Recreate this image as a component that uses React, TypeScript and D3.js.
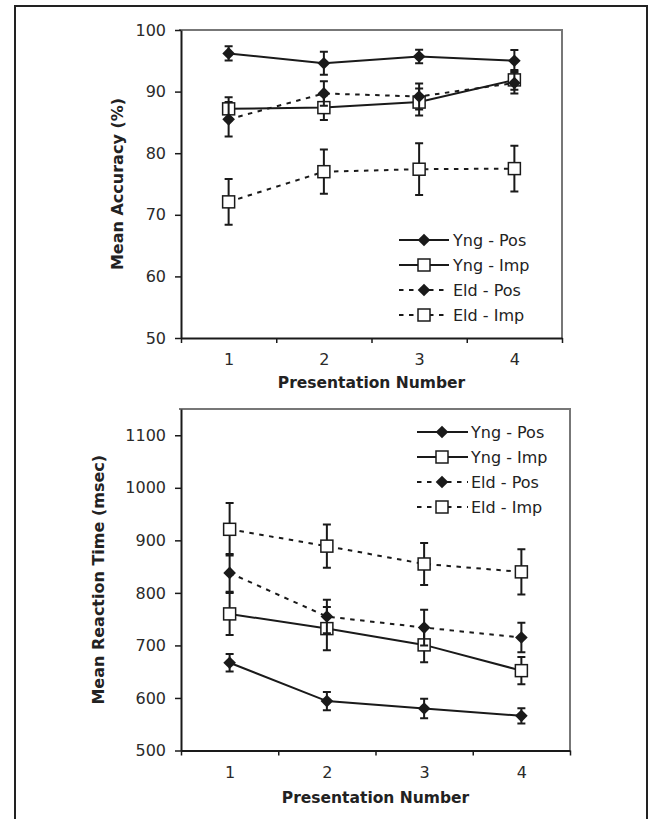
import React, { useEffect, useRef } from 'react';
import * as d3 from 'd3';

// presentation numbers on the x axis
const sessions = [1, 2, 3, 4];
const seriesNames = ['Yng - Pos', 'Yng - Imp', 'Eld - Pos', 'Eld - Imp'];

// top panel: mean accuracy (%)
const accYngPos = [96.2, 94.6, 95.7, 95.0];
const accYngPosErr = [1.15, 1.85, 1.1, 1.75];
const accYngImp = [87.2, 87.4, 88.3, 91.9];
const accYngImpErr = [1.9, 2.0, 2.2, 1.6];
const accEldPos = [85.5, 89.7, 89.2, 91.4];
const accEldPosErr = [2.8, 2.0, 2.1, 1.7];
const accEldImp = [72.1, 77.0, 77.4, 77.5];
const accEldImpErr = [3.7, 3.6, 4.2, 3.7];
const accTicks = [50, 60, 70, 80, 90, 100];

// bottom panel: mean reaction time (msec)
const rtYngPos = [667, 594, 580, 566];
const rtYngPosErr = [16.5, 17.5, 18.5, 14.5];
const rtYngImp = [760, 732, 701, 652];
const rtYngImpErr = [40, 41, 33, 26];
const rtEldPos = [838, 755, 734, 715];
const rtEldPosErr = [36, 32, 34, 28];
const rtEldImp = [921, 889, 855, 840];
const rtEldImpErr = [50, 41, 40, 43];
const rtTicks = [500, 600, 700, 800, 900, 1000, 1100];

const FONT = '"DejaVu Sans", Verdana, sans-serif';
const INK = '#1a1a1a';
const DASH = '4.5,5.5';

type Panel = {
  xRange: [number, number];
  yDomain: [number, number];
  yRange: [number, number];
  yTicks: number[];
  values: number[][];
  errs: number[][];
  yTitle: string;
  yTitleX: number;
  xTitleY: number;
  legend: { x0: number; x1: number; mx: number; tx: number; rows: number[] };
};

function drawMarker(g: any, kind: 'diamond' | 'square', cx: number, cy: number) {
  if (kind === 'diamond') {
    g.append('path')
      .attr('d', d3.symbol(d3.symbolSquare, 80)())
      .attr('transform', `translate(${cx},${cy}) rotate(45)`)
      .attr('fill', INK);
  } else {
    g.append('rect')
      .attr('x', cx - 6).attr('y', cy - 6)
      .attr('width', 12).attr('height', 12)
      .attr('fill', '#fff')
      .attr('stroke', INK)
      .attr('stroke-width', 1.5);
  }
}

function drawPanel(svg: any, p: Panel) {
  const x = d3.scaleLinear().domain([0.5, 4.5]).range(p.xRange);
  const y = d3.scaleLinear().domain(p.yDomain).range(p.yRange);
  const [left, right] = p.xRange;
  const [bottom, top] = p.yRange;

  const g = svg.append('g');

  // gray plot frame (top + right)
  g.append('path')
    .attr('d', `M${left - 2},${top}H${right}V${bottom}`)
    .attr('fill', 'none')
    .attr('stroke', '#777')
    .attr('stroke-width', 2);

  // y axis
  const ya = g.append('g')
    .attr('transform', `translate(${left},0)`)
    .call(d3.axisLeft(y).tickValues(p.yTicks).tickSize(6).tickSizeOuter(0).tickPadding(9).tickFormat(d3.format('d')));
  ya.select('.domain').attr('stroke', INK).attr('stroke-width', 2);
  ya.selectAll('line').attr('stroke', INK).attr('stroke-width', 1.5);
  ya.selectAll('text').attr('font-family', FONT).attr('font-size', 16).attr('fill', '#2a2a2a');

  // x axis with ticks between categories
  const xa = g.append('g')
    .attr('transform', `translate(0,${bottom})`)
    .call(d3.axisBottom(x).tickValues([0.5, 1.5, 2.5, 3.5, 4.5]).tickSize(5).tickSizeOuter(0).tickFormat(() => ''));
  xa.select('.domain').attr('stroke', INK).attr('stroke-width', 2);
  xa.selectAll('line').attr('stroke', INK).attr('stroke-width', 1.5);

  const xl = g.append('g')
    .attr('transform', `translate(0,${bottom})`)
    .call(d3.axisBottom(x).tickValues(sessions).tickSize(0).tickPadding(16).tickFormat(d3.format('d')));
  xl.select('.domain').remove();
  xl.selectAll('text').attr('font-family', FONT).attr('font-size', 16).attr('fill', '#2a2a2a');

  // titles
  g.append('text')
    .attr('x', (left + right) / 2).attr('y', p.xTitleY)
    .attr('text-anchor', 'middle')
    .attr('font-family', FONT).attr('font-weight', 'bold').attr('font-size', 15.5)
    .attr('fill', '#222')
    .text('Presentation Number');
  g.append('text')
    .attr('transform', `translate(${p.yTitleX},${(top + bottom) / 2}) rotate(-90)`)
    .attr('text-anchor', 'middle')
    .attr('font-family', FONT).attr('font-weight', 'bold').attr('font-size', 16)
    .attr('fill', '#222')
    .text(p.yTitle);

  const line = d3.line<number>().x((_, i) => x(sessions[i])).y(d => y(d));

  p.values.forEach((vals, si) => {
    const dashed = si >= 2;
    const kind = si % 2 === 0 ? 'diamond' : 'square';
    const sg = g.append('g');
    // error bars
    vals.forEach((v, i) => {
      const cx = x(sessions[i]);
      const e = p.errs[si][i];
      const y0 = y(v - e), y1 = y(v + e);
      sg.append('path')
        .attr('d', `M${cx},${y0}V${y1}M${cx - 4},${y0}H${cx + 4}M${cx - 4},${y1}H${cx + 4}`)
        .attr('stroke', INK).attr('stroke-width', 2).attr('fill', 'none');
    });
    sg.append('path')
      .attr('d', line(vals))
      .attr('fill', 'none')
      .attr('stroke', INK)
      .attr('stroke-width', 2)
      .attr('stroke-dasharray', dashed ? DASH : null);
    vals.forEach((v, i) => drawMarker(sg, kind, x(sessions[i]), y(v)));
  });

  // legend
  const L = p.legend;
  seriesNames.forEach((name, si) => {
    const ry = L.rows[si];
    const dashed = si >= 2;
    const kind = si % 2 === 0 ? 'diamond' : 'square';
    g.append('line')
      .attr('x1', L.x0).attr('x2', L.x1).attr('y1', ry).attr('y2', ry)
      .attr('stroke', INK).attr('stroke-width', 2)
      .attr('stroke-dasharray', dashed ? DASH : null);
    drawMarker(g, kind, L.mx, ry);
    g.append('text')
      .attr('x', L.tx).attr('y', ry).attr('dy', '0.36em')
      .attr('font-family', FONT).attr('font-size', 16).attr('fill', '#222')
      .text(name);
  });
}

export default function App() {
  const ref = useRef<SVGSVGElement>(null);

  useEffect(() => {
    const svg = d3.select(ref.current);
    svg.selectAll('*').remove();

    // outer frame
    svg.append('path')
      .attr('d', 'M15,830V6H647V830')
      .attr('fill', 'none')
      .attr('stroke', '#222')
      .attr('stroke-width', 2);

    drawPanel(svg, {
      xRange: [181, 562],
      yDomain: [50, 100],
      yRange: [338, 30],
      yTicks: accTicks,
      values: [accYngPos, accYngImp, accEldPos, accEldImp],
      errs: [accYngPosErr, accYngImpErr, accEldPosErr, accEldImpErr],
      yTitle: 'Mean Accuracy (%)',
      yTitleX: 123,
      xTitleY: 388,
      legend: { x0: 399, x1: 449, mx: 424, tx: 453, rows: [240, 265, 290, 315] },
    });

    drawPanel(svg, {
      xRange: [181, 570],
      yDomain: [500, 1150],
      yRange: [750.5, 409],
      yTicks: rtTicks,
      values: [rtYngPos, rtYngImp, rtEldPos, rtEldImp],
      errs: [rtYngPosErr, rtYngImpErr, rtEldPosErr, rtEldImpErr],
      yTitle: 'Mean Reaction Time (msec)',
      yTitleX: 104,
      xTitleY: 803,
      legend: { x0: 417, x1: 468, mx: 442, tx: 471, rows: [432, 457, 482, 507] },
    });
  }, []);

  return (
    <svg
      ref={ref}
      width={649}
      height={819}
      style={{ position: 'absolute', left: 0, top: 0, background: '#fff' }}
    />
  );
}
